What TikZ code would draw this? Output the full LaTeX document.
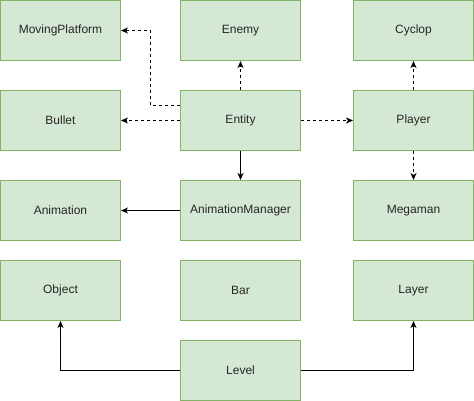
\documentclass[tikz,border=0pt]{standalone}
\usepackage{fontspec}
\setmainfont{Liberation Sans}
\usetikzlibrary{arrows.meta}
\definecolor{boxfill}{HTML}{D5E8D4}
\definecolor{boxline}{HTML}{82B366}
\tikzset{
  cls/.style={draw=boxline, fill=boxfill, line width=1pt, minimum width=120pt, minimum height=60pt, inner sep=0pt, font=\fontsize{12pt}{14pt}\selectfont, text=black!85},
  conn/.style={line width=1pt, -{Stealth[length=7pt,width=6pt,inset=2pt]}},
  dconn/.style={conn, dash pattern=on 3pt off 3pt},
}
\begin{document}
\begin{tikzpicture}[x=1pt,y=-1pt]
\useasboundingbox (0,0) rectangle (474,401);
\node[cls] (mp) at (60.5,30.5) {MovingPlatform};
\node[cls] (enemy) at (240.5,30.5) {Enemy};
\node[cls] (cyclop) at (413.5,30.5) {Cyclop};
\node[cls] (bullet) at (60.5,120.5) {Bullet};
\node[cls] (entity) at (240.5,120.5) {Entity};
\node[cls] (player) at (413.5,120.5) {Player};
\node[cls] (anim) at (60.5,210.5) {Animation};
\node[cls] (animmgr) at (240.5,210.5) {AnimationManager};
\node[cls] (megaman) at (413.5,210.5) {Megaman};
\node[cls] (object) at (60.5,290.5) {Object};
\node[cls] (bar) at (240.5,290.5) {Bar};
\node[cls] (layer) at (413.5,290.5) {Layer};
\node[cls] (level) at (240.5,370.5) {Level};
\coordinate (mpA) at (entity.west |- 0,105.5);
\draw[dconn] (mpA) -- (150.5,105.5) -- (150.5,30.5) -- (mp.east);
\draw[dconn] (entity.west) -- (bullet.east);
\draw[dconn] (entity.north) -- (enemy.south);
\draw[dconn] (entity.east) -- (player.west);
\draw[dconn] (player.north) -- (cyclop.south);
\draw[dconn] (player.south) -- (megaman.north);
\draw[conn] (entity.south) -- (animmgr.north);
\draw[conn] (animmgr.west) -- (anim.east);
\draw[conn] (level.west) -| (object.south);
\draw[conn] (level.east) -| (layer.south);
\end{tikzpicture}
\end{document}
